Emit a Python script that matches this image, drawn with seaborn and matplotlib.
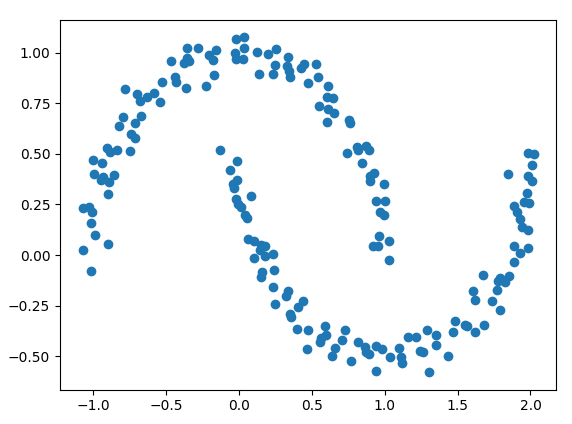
import matplotlib
matplotlib.use("Agg")
import matplotlib.pyplot as plt
import seaborn as sns
import pandas as pd

# Upper moon
x_upper = [-0.354, -0.279, -0.153, -0.205, -0.176, -0.468, -0.358, -0.377, -0.340, -0.169,
           -0.438, -0.434, -0.529, -0.363, -0.226, -0.779, -0.699, -0.678, -0.628, -0.580,
           -0.541, -0.792, -0.820, -0.714, -0.669, -0.740, -0.712,
           -0.906, -0.884, -0.838, -0.747, -0.998, -0.936, -0.991, -0.934, -0.943, -0.888,
           -0.854, -0.899, -1.066, -1.025, -1.005, -1.014, -0.984, -0.899, -1.066, -1.016,
           -0.021, 0.036, 0.036, -0.027, -0.021, 0.029, 0.125, 0.201, 0.255, 0.338,
           0.247, 0.331, 0.342, 0.354, 0.139, 0.235, 0.425, 0.447, 0.527, 0.543,
           0.475, 0.612, 0.605, 0.646, 0.550, 0.612, 0.653, 0.605, 0.755, 0.760,
           0.745, 0.810, 0.870, 0.890, 0.817, 0.845, 0.925, 0.897, 0.902, 0.995,
           0.943, 1.005, 0.971, 0.995, 0.959, 0.920, 0.954, 1.027, 1.027]
y_upper = [1.023, 1.023, 1.015, 0.990, 0.964, 0.961, 0.977, 0.949, 0.959, 0.890,
           0.883, 0.857, 0.857, 0.827, 0.837, 0.822, 0.799, 0.763, 0.784, 0.801,
           0.758, 0.681, 0.640, 0.653, 0.689, 0.599, 0.577,
           0.530, 0.508, 0.520, 0.513, 0.471, 0.454, 0.402, 0.388, 0.369, 0.362,
           0.398, 0.303, 0.234, 0.240, 0.214, 0.160, 0.101, 0.056, 0.027, -0.079,
           1.068, 1.079, 1.023, 0.999, 0.972, 0.972, 1.005, 0.994, 1.020, 0.980,
           0.941, 0.936, 0.911, 0.882, 0.895, 0.895, 0.927, 0.947, 0.944, 0.882,
           0.851, 0.837, 0.783, 0.775, 0.735, 0.725, 0.705, 0.660, 0.669, 0.653,
           0.505, 0.536, 0.541, 0.520, 0.520, 0.456, 0.407, 0.390, 0.364, 0.349,
           0.266, 0.266, 0.212, 0.196, 0.094, 0.043, 0.043, 0.068, -0.026]

# Lower moon
x_lower = [-0.130, -0.012, -0.062, -0.012, -0.039, -0.032, -0.021, -0.005, 0.018, 0.082,
           0.041, 0.053, 0.064, 0.105, 0.155, 0.183, 0.144, 0.235, 0.183, 0.105,
           0.162, 0.240, 0.155, 0.235, 0.334, 0.327, 0.247, 0.440, 0.406, 0.352,
           0.357, 0.399, 0.475, 0.589, 0.596, 0.566, 0.555, 0.468, 0.658, 0.639,
           0.708, 0.731, 0.767, 0.817, 0.863, 0.875, 0.890, 0.943, 0.982, 0.938,
           1.034, 1.673, 1.788, 1.776, 1.822, 1.851, 1.769, 1.605, 1.623, 1.738,
           1.788, 1.482, 1.468, 1.548, 1.564, 1.680, 1.618, 1.290, 1.354, 1.354,
           1.160, 1.217, 1.098, 1.114, 1.118, 1.240, 1.262, 1.434, 1.303,
           1.982, 2.021, 2.009, 1.986, 2.009, 1.845, 1.975, 1.955, 1.993, 1.886,
           1.909, 1.929, 1.943, 1.982, 1.886, 1.925, 1.982, 1.886]
y_lower = [0.520, 0.467, 0.421, 0.373, 0.352, 0.331, 0.278, 0.250, 0.237, 0.290,
           0.196, 0.185, 0.077, 0.069, 0.048, 0.043, 0.027, 0.007, -0.006, -0.013,
           -0.084, -0.075, -0.111, -0.158, -0.179, -0.204, -0.240, -0.228, -0.257, -0.292,
           -0.305, -0.366, -0.371, -0.352, -0.396, -0.412, -0.429, -0.467, -0.462, -0.500,
           -0.421, -0.371, -0.523, -0.429, -0.454, -0.479, -0.491, -0.450, -0.465, -0.574,
           -0.503, -0.097, -0.116, -0.130, -0.133, -0.104, -0.171, -0.179, -0.223, -0.228,
           -0.273, -0.327, -0.383, -0.347, -0.352, -0.347, -0.383, -0.371, -0.396, -0.445,
           -0.408, -0.408, -0.462, -0.503, -0.536, -0.475, -0.479, -0.500, -0.580,
           0.505, 0.500, 0.443, 0.393, 0.364, 0.402, 0.308, 0.261, 0.259, 0.245,
           0.212, 0.180, 0.138, 0.122, 0.043, 0.010, 0.037, -0.037]

df = pd.DataFrame({
    "x": x_upper + x_lower,
    "y": y_upper + y_lower,
})

fig = plt.figure(figsize=(5.72, 4.24), dpi=100)
ax = fig.add_axes([60 / 572, (424 - 389.6) / 424, 496 / 572, 369.6 / 424])
sns.scatterplot(data=df, x="x", y="y", ax=ax, s=36, color="#1f77b4",
                edgecolor="#1f77b4", linewidth=1.0, legend=False)
ax.set_xlim(-1.226, 2.175)
ax.set_ylim(-0.666, 1.163)
ax.set_xticks([-1.0, -0.5, 0.0, 0.5, 1.0, 1.5, 2.0])
ax.set_yticks([-0.50, -0.25, 0.00, 0.25, 0.50, 0.75, 1.00])
ax.set_yticklabels(["−0.50", "−0.25", "0.00", "0.25", "0.50", "0.75", "1.00"])
ax.set_xlabel("")
ax.set_ylabel("")
fig.savefig("out.png", dpi=100)
